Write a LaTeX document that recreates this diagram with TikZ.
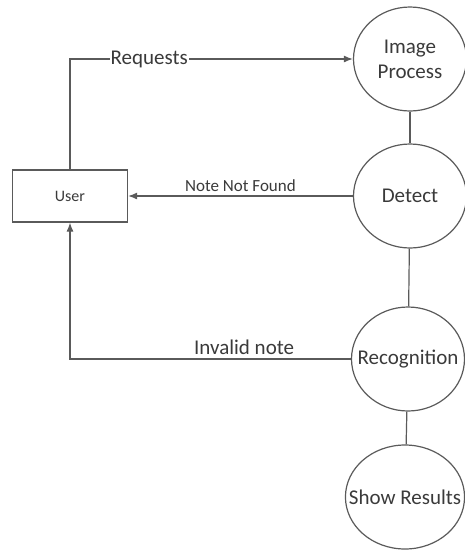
\documentclass[tikz,border=0pt]{standalone}
\usepackage{fontspec}
\setmainfont{Carlito}
\usepackage{tikz}
\usetikzlibrary{shapes.geometric, arrows.meta}
\definecolor{lin}{HTML}{5A5A5A}
\definecolor{txt}{HTML}{3A3A3A}

\begin{document}
\begin{tikzpicture}[x=1pt, y=-1pt, >={Latex[length=9pt, width=7pt]},
  proc/.style={draw=lin, line width=1.2pt, ellipse, inner sep=-14pt,
    minimum width=113pt, minimum height=104pt, text=txt,
    font=\fontsize{21}{25}\selectfont, align=center},
  ent/.style={draw=lin, line width=1.2pt, rectangle, inner sep=0pt,
    minimum width=115pt, minimum height=52pt, text=txt,
    font=\fontsize{16}{19}\selectfont},
  flow/.style={draw=lin, line width=1.2pt},
  lbl/.style={text=txt, inner sep=1pt}]
  \useasboundingbox (0,0) rectangle (465,550);
  % User entity
  \node[ent] (user) at (70,196) {User};
  % Processes
  \node[proc] (img) at (410,59) {Image\\Process};
  \node[proc] (det) at (410,196) {Detect};
  \node[proc] (rec) at (408,359) {Recognition};
  \node[proc, minimum width=116pt] (res) at (405,497) {Show Results};
  % Links between processes
  \draw[flow] (img) -- (det);
  \draw[flow] (det) -- (rec);
  \draw[flow] (rec) -- (res);
  % Data flows
  \draw[flow, ->] (user.north) |- node[lbl, pos=0.64, fill=white,
    font=\fontsize{21}{25}\selectfont] {Requests} (img.west);
  \draw[flow, ->] (det.west) -- node[lbl, above=3pt,
    font=\fontsize{17}{20}\selectfont] {Note Not Found} (user.east);
  \draw[flow, ->] (rec.west) -| node[lbl, pos=0.19, above=3pt,
    font=\fontsize{21}{25}\selectfont] {Invalid note} (user.south);
\end{tikzpicture}
\end{document}
